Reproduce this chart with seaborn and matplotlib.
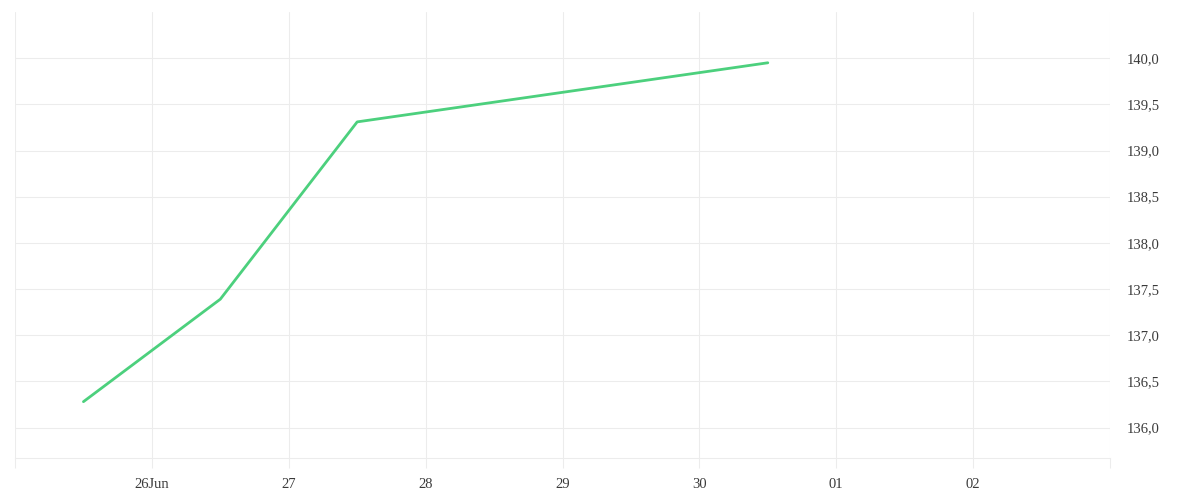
import matplotlib
matplotlib.use("Agg")
import matplotlib.pyplot as plt
import matplotlib.dates as mdates
import seaborn as sns
import pandas as pd
import numpy as np

dates = ["2024-06-25 12:00", "2024-06-26 12:00", "2024-06-27 12:00", "2024-06-30 12:00"]
values = [136.28, 137.39, 139.31, 139.95]
tick_days = ["2024-06-25", "2024-06-26", "2024-06-27", "2024-06-28", "2024-06-29",
             "2024-06-30", "2024-07-01", "2024-07-02", "2024-07-03"]
tick_labels = ["", "26Jun", "27", "28", "29", "30", "01", "02", ""]
y_ticks = [136.0, 136.5, 137.0, 137.5, 138.0, 138.5, 139.0, 139.5, 140.0]

sns.set_theme(style="white")
plt.rcParams['font.family'] = ['Liberation Serif', 'DejaVu Serif']

df = pd.DataFrame({"date": pd.to_datetime(dates), "value": values})

fig = plt.figure(figsize=(12, 5), dpi=100)
ax = fig.add_axes([15/1200, 1-458/500, (1110-15)/1200, (458-12)/500])

grid_c = "#ececec"
sns.lineplot(data=df, x="date", y="value", ax=ax, color="#4cd07d", linewidth=2.0, zorder=3)

ticks = pd.to_datetime(tick_days)
ax.set_xticks(ticks)
ax.set_xticklabels(tick_labels)
ax.set_xlim(ticks[0], ticks[-1])
ax.set_ylim(135.67, 140.5)
ax.set_yticks(y_ticks)
ax.set_yticklabels([f"{v:.1f}".replace(".", ",") for v in y_ticks])
ax.yaxis.tick_right()

ax.grid(True, color=grid_c, linewidth=0.75, zorder=0)
for s in ["top", "left", "right"]:
    ax.spines[s].set_visible(False)
ax.spines["bottom"].set_color(grid_c)
ax.spines["bottom"].set_linewidth(0.75)

ax.tick_params(axis="x", bottom=True, direction="out", length=7.2, width=0.75, color=grid_c,
               pad=7, labelsize=10.5, labelcolor="#3a3a3a")
ax.tick_params(axis="y", left=False, right=False, length=0, pad=12, labelsize=10.5, labelcolor="#3a3a3a")
ax.set_xlabel("")
ax.set_ylabel("")

fig.savefig("out.png", dpi=100, facecolor="white")
